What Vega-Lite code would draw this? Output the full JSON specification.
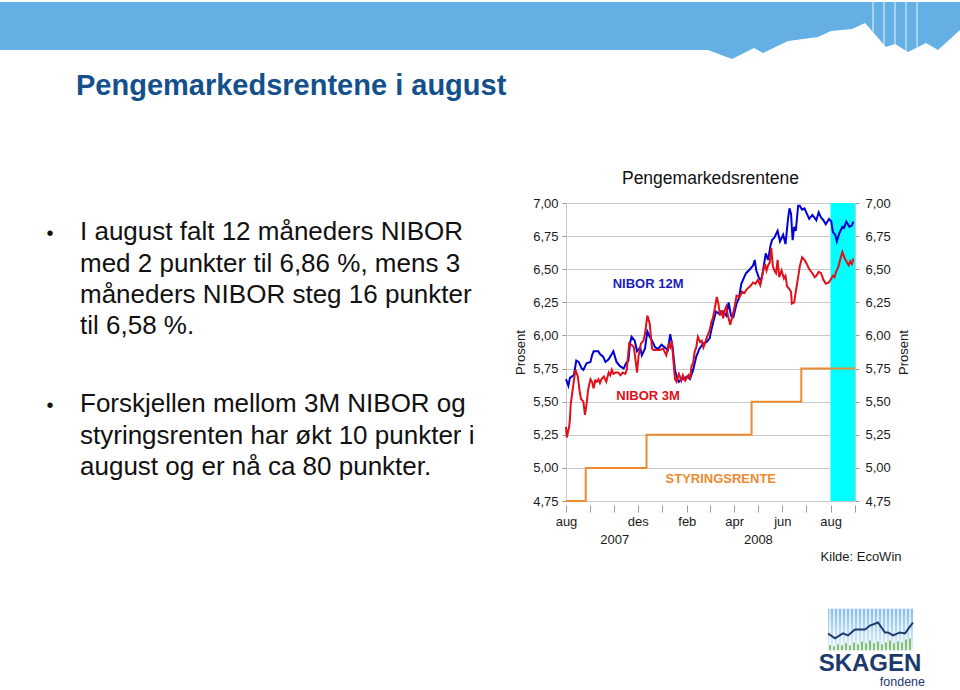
{
  "$schema": "https://vega.github.io/schema/vega-lite/v6.json",
  "padding": 0,
  "background": "#ffffff",
  "spacing": 0,
  "config": {
    "view": {"stroke": null},
    "font": "Liberation Sans",
    "axis": {"labelFont": "Liberation Sans", "titleFont": "Liberation Sans", "labelColor": "#1a1a1a", "titleColor": "#1a1a1a"},
    "axisX": {"labelOverlap": false},
    "title": {"font": "Liberation Sans"},
    "text": {"font": "Liberation Sans"}
  },
  "datasets": {
    "nibor": [
      {"dato":"2007-09-01","serie":"NIBOR 12M","rente":5.67},{"dato":"2007-09-04","serie":"NIBOR 12M","rente":5.62},{"dato":"2007-09-06","serie":"NIBOR 12M","rente":5.68},{"dato":"2007-09-11","serie":"NIBOR 12M","rente":5.70},{"dato":"2007-09-14","serie":"NIBOR 12M","rente":5.81},{"dato":"2007-09-17","serie":"NIBOR 12M","rente":5.80},{"dato":"2007-09-21","serie":"NIBOR 12M","rente":5.75},{"dato":"2007-09-23","serie":"NIBOR 12M","rente":5.74},{"dato":"2007-09-27","serie":"NIBOR 12M","rente":5.79},{"dato":"2007-10-02","serie":"NIBOR 12M","rente":5.80},{"dato":"2007-10-04","serie":"NIBOR 12M","rente":5.85},{"dato":"2007-10-06","serie":"NIBOR 12M","rente":5.88},{"dato":"2007-10-12","serie":"NIBOR 12M","rente":5.88},{"dato":"2007-10-14","serie":"NIBOR 12M","rente":5.86},{"dato":"2007-10-18","serie":"NIBOR 12M","rente":5.84},{"dato":"2007-10-21","serie":"NIBOR 12M","rente":5.80},{"dato":"2007-10-25","serie":"NIBOR 12M","rente":5.82},{"dato":"2007-10-29","serie":"NIBOR 12M","rente":5.86},{"dato":"2007-10-31","serie":"NIBOR 12M","rente":5.88},{"dato":"2007-11-02","serie":"NIBOR 12M","rente":5.84},{"dato":"2007-11-04","serie":"NIBOR 12M","rente":5.80},{"dato":"2007-11-08","serie":"NIBOR 12M","rente":5.77},{"dato":"2007-11-13","serie":"NIBOR 12M","rente":5.75},{"dato":"2007-11-16","serie":"NIBOR 12M","rente":5.79},{"dato":"2007-11-19","serie":"NIBOR 12M","rente":5.81},{"dato":"2007-11-21","serie":"NIBOR 12M","rente":5.94},{"dato":"2007-11-23","serie":"NIBOR 12M","rente":5.99},{"dato":"2007-11-27","serie":"NIBOR 12M","rente":5.96},{"dato":"2007-11-30","serie":"NIBOR 12M","rente":5.88},{"dato":"2007-12-04","serie":"NIBOR 12M","rente":5.91},{"dato":"2007-12-06","serie":"NIBOR 12M","rente":5.85},{"dato":"2007-12-10","serie":"NIBOR 12M","rente":5.90},{"dato":"2007-12-13","serie":"NIBOR 12M","rente":6.03},{"dato":"2007-12-16","serie":"NIBOR 12M","rente":5.99},{"dato":"2007-12-19","serie":"NIBOR 12M","rente":5.96},{"dato":"2007-12-23","serie":"NIBOR 12M","rente":5.91},{"dato":"2007-12-27","serie":"NIBOR 12M","rente":5.90},{"dato":"2007-12-31","serie":"NIBOR 12M","rente":5.93},{"dato":"2008-01-04","serie":"NIBOR 12M","rente":5.91},{"dato":"2008-01-08","serie":"NIBOR 12M","rente":5.89},{"dato":"2008-01-11","serie":"NIBOR 12M","rente":6.01},{"dato":"2008-01-14","serie":"NIBOR 12M","rente":5.91},{"dato":"2008-01-17","serie":"NIBOR 12M","rente":5.74},{"dato":"2008-01-20","serie":"NIBOR 12M","rente":5.67},{"dato":"2008-01-22","serie":"NIBOR 12M","rente":5.65},{"dato":"2008-01-25","serie":"NIBOR 12M","rente":5.67},{"dato":"2008-01-28","serie":"NIBOR 12M","rente":5.67},{"dato":"2008-02-01","serie":"NIBOR 12M","rente":5.69},{"dato":"2008-02-05","serie":"NIBOR 12M","rente":5.67},{"dato":"2008-02-09","serie":"NIBOR 12M","rente":5.74},{"dato":"2008-02-13","serie":"NIBOR 12M","rente":5.84},{"dato":"2008-02-17","serie":"NIBOR 12M","rente":5.90},{"dato":"2008-02-22","serie":"NIBOR 12M","rente":5.94},{"dato":"2008-02-26","serie":"NIBOR 12M","rente":5.95},{"dato":"2008-03-01","serie":"NIBOR 12M","rente":5.98},{"dato":"2008-03-03","serie":"NIBOR 12M","rente":6.04},{"dato":"2008-03-05","serie":"NIBOR 12M","rente":6.09},{"dato":"2008-03-09","serie":"NIBOR 12M","rente":6.18},{"dato":"2008-03-14","serie":"NIBOR 12M","rente":6.16},{"dato":"2008-03-18","serie":"NIBOR 12M","rente":6.18},{"dato":"2008-03-22","serie":"NIBOR 12M","rente":6.15},{"dato":"2008-03-25","serie":"NIBOR 12M","rente":6.25},{"dato":"2008-03-28","serie":"NIBOR 12M","rente":6.15},{"dato":"2008-03-31","serie":"NIBOR 12M","rente":6.14},{"dato":"2008-04-04","serie":"NIBOR 12M","rente":6.24},{"dato":"2008-04-07","serie":"NIBOR 12M","rente":6.28},{"dato":"2008-04-10","serie":"NIBOR 12M","rente":6.39},{"dato":"2008-04-16","serie":"NIBOR 12M","rente":6.47},{"dato":"2008-04-21","serie":"NIBOR 12M","rente":6.50},{"dato":"2008-04-25","serie":"NIBOR 12M","rente":6.53},{"dato":"2008-04-27","serie":"NIBOR 12M","rente":6.57},{"dato":"2008-04-29","serie":"NIBOR 12M","rente":6.49},{"dato":"2008-05-02","serie":"NIBOR 12M","rente":6.44},{"dato":"2008-05-05","serie":"NIBOR 12M","rente":6.41},{"dato":"2008-05-07","serie":"NIBOR 12M","rente":6.47},{"dato":"2008-05-11","serie":"NIBOR 12M","rente":6.62},{"dato":"2008-05-14","serie":"NIBOR 12M","rente":6.57},{"dato":"2008-05-17","serie":"NIBOR 12M","rente":6.68},{"dato":"2008-05-19","serie":"NIBOR 12M","rente":6.72},{"dato":"2008-05-22","serie":"NIBOR 12M","rente":6.74},{"dato":"2008-05-26","serie":"NIBOR 12M","rente":6.79},{"dato":"2008-05-29","serie":"NIBOR 12M","rente":6.71},{"dato":"2008-06-02","serie":"NIBOR 12M","rente":6.76},{"dato":"2008-06-05","serie":"NIBOR 12M","rente":6.69},{"dato":"2008-06-08","serie":"NIBOR 12M","rente":6.87},{"dato":"2008-06-10","serie":"NIBOR 12M","rente":6.96},{"dato":"2008-06-12","serie":"NIBOR 12M","rente":6.92},{"dato":"2008-06-14","serie":"NIBOR 12M","rente":6.72},{"dato":"2008-06-16","serie":"NIBOR 12M","rente":6.82},{"dato":"2008-06-18","serie":"NIBOR 12M","rente":6.79},{"dato":"2008-06-21","serie":"NIBOR 12M","rente":6.98},{"dato":"2008-06-23","serie":"NIBOR 12M","rente":6.98},{"dato":"2008-06-26","serie":"NIBOR 12M","rente":6.95},{"dato":"2008-06-29","serie":"NIBOR 12M","rente":6.96},{"dato":"2008-07-02","serie":"NIBOR 12M","rente":6.92},{"dato":"2008-07-05","serie":"NIBOR 12M","rente":6.88},{"dato":"2008-07-09","serie":"NIBOR 12M","rente":6.91},{"dato":"2008-07-14","serie":"NIBOR 12M","rente":6.87},{"dato":"2008-07-17","serie":"NIBOR 12M","rente":6.93},{"dato":"2008-07-20","serie":"NIBOR 12M","rente":6.89},{"dato":"2008-07-23","serie":"NIBOR 12M","rente":6.87},{"dato":"2008-07-26","serie":"NIBOR 12M","rente":6.84},{"dato":"2008-07-30","serie":"NIBOR 12M","rente":6.88},{"dato":"2008-08-02","serie":"NIBOR 12M","rente":6.86},{"dato":"2008-08-04","serie":"NIBOR 12M","rente":6.78},{"dato":"2008-08-07","serie":"NIBOR 12M","rente":6.76},{"dato":"2008-08-09","serie":"NIBOR 12M","rente":6.71},{"dato":"2008-08-12","serie":"NIBOR 12M","rente":6.77},{"dato":"2008-08-16","serie":"NIBOR 12M","rente":6.82},{"dato":"2008-08-18","serie":"NIBOR 12M","rente":6.81},{"dato":"2008-08-21","serie":"NIBOR 12M","rente":6.86},{"dato":"2008-08-25","serie":"NIBOR 12M","rente":6.82},{"dato":"2008-08-28","serie":"NIBOR 12M","rente":6.83},{"dato":"2008-08-30","serie":"NIBOR 12M","rente":6.86},
      {"dato":"2007-09-01","serie":"NIBOR 3M","rente":5.31},{"dato":"2007-09-02","serie":"NIBOR 3M","rente":5.23},{"dato":"2007-09-05","serie":"NIBOR 3M","rente":5.31},{"dato":"2007-09-06","serie":"NIBOR 3M","rente":5.37},{"dato":"2007-09-07","serie":"NIBOR 3M","rente":5.48},{"dato":"2007-09-11","serie":"NIBOR 3M","rente":5.66},{"dato":"2007-09-13","serie":"NIBOR 3M","rente":5.74},{"dato":"2007-09-16","serie":"NIBOR 3M","rente":5.69},{"dato":"2007-09-18","serie":"NIBOR 3M","rente":5.59},{"dato":"2007-09-20","serie":"NIBOR 3M","rente":5.52},{"dato":"2007-09-23","serie":"NIBOR 3M","rente":5.50},{"dato":"2007-09-25","serie":"NIBOR 3M","rente":5.40},{"dato":"2007-09-27","serie":"NIBOR 3M","rente":5.48},{"dato":"2007-09-29","serie":"NIBOR 3M","rente":5.59},{"dato":"2007-10-02","serie":"NIBOR 3M","rente":5.67},{"dato":"2007-10-04","serie":"NIBOR 3M","rente":5.65},{"dato":"2007-10-06","serie":"NIBOR 3M","rente":5.60},{"dato":"2007-10-08","serie":"NIBOR 3M","rente":5.66},{"dato":"2007-10-10","serie":"NIBOR 3M","rente":5.65},{"dato":"2007-10-12","serie":"NIBOR 3M","rente":5.67},{"dato":"2007-10-14","serie":"NIBOR 3M","rente":5.64},{"dato":"2007-10-16","serie":"NIBOR 3M","rente":5.67},{"dato":"2007-10-19","serie":"NIBOR 3M","rente":5.69},{"dato":"2007-10-22","serie":"NIBOR 3M","rente":5.65},{"dato":"2007-10-25","serie":"NIBOR 3M","rente":5.72},{"dato":"2007-10-27","serie":"NIBOR 3M","rente":5.70},{"dato":"2007-10-29","serie":"NIBOR 3M","rente":5.74},{"dato":"2007-10-31","serie":"NIBOR 3M","rente":5.71},{"dato":"2007-11-03","serie":"NIBOR 3M","rente":5.72},{"dato":"2007-11-06","serie":"NIBOR 3M","rente":5.72},{"dato":"2007-11-09","serie":"NIBOR 3M","rente":5.70},{"dato":"2007-11-12","serie":"NIBOR 3M","rente":5.72},{"dato":"2007-11-15","serie":"NIBOR 3M","rente":5.71},{"dato":"2007-11-17","serie":"NIBOR 3M","rente":5.74},{"dato":"2007-11-20","serie":"NIBOR 3M","rente":5.94},{"dato":"2007-11-23","serie":"NIBOR 3M","rente":5.93},{"dato":"2007-11-26","serie":"NIBOR 3M","rente":5.91},{"dato":"2007-11-30","serie":"NIBOR 3M","rente":5.72},{"dato":"2007-12-02","serie":"NIBOR 3M","rente":5.85},{"dato":"2007-12-05","serie":"NIBOR 3M","rente":5.94},{"dato":"2007-12-08","serie":"NIBOR 3M","rente":5.96},{"dato":"2007-12-10","serie":"NIBOR 3M","rente":6.01},{"dato":"2007-12-13","serie":"NIBOR 3M","rente":6.15},{"dato":"2007-12-16","serie":"NIBOR 3M","rente":6.09},{"dato":"2007-12-19","serie":"NIBOR 3M","rente":5.90},{"dato":"2007-12-21","serie":"NIBOR 3M","rente":5.89},{"dato":"2007-12-25","serie":"NIBOR 3M","rente":5.89},{"dato":"2007-12-29","serie":"NIBOR 3M","rente":5.89},{"dato":"2008-01-02","serie":"NIBOR 3M","rente":5.90},{"dato":"2008-01-06","serie":"NIBOR 3M","rente":5.85},{"dato":"2008-01-09","serie":"NIBOR 3M","rente":5.93},{"dato":"2008-01-11","serie":"NIBOR 3M","rente":5.91},{"dato":"2008-01-13","serie":"NIBOR 3M","rente":5.96},{"dato":"2008-01-15","serie":"NIBOR 3M","rente":5.81},{"dato":"2008-01-17","serie":"NIBOR 3M","rente":5.67},{"dato":"2008-01-19","serie":"NIBOR 3M","rente":5.65},{"dato":"2008-01-22","serie":"NIBOR 3M","rente":5.71},{"dato":"2008-01-25","serie":"NIBOR 3M","rente":5.66},{"dato":"2008-01-27","serie":"NIBOR 3M","rente":5.70},{"dato":"2008-01-30","serie":"NIBOR 3M","rente":5.66},{"dato":"2008-02-03","serie":"NIBOR 3M","rente":5.70},{"dato":"2008-02-05","serie":"NIBOR 3M","rente":5.67},{"dato":"2008-02-07","serie":"NIBOR 3M","rente":5.77},{"dato":"2008-02-09","serie":"NIBOR 3M","rente":5.79},{"dato":"2008-02-11","serie":"NIBOR 3M","rente":5.88},{"dato":"2008-02-13","serie":"NIBOR 3M","rente":5.91},{"dato":"2008-02-15","serie":"NIBOR 3M","rente":5.99},{"dato":"2008-02-18","serie":"NIBOR 3M","rente":5.95},{"dato":"2008-02-20","serie":"NIBOR 3M","rente":5.96},{"dato":"2008-02-22","serie":"NIBOR 3M","rente":5.91},{"dato":"2008-02-24","serie":"NIBOR 3M","rente":5.94},{"dato":"2008-02-26","serie":"NIBOR 3M","rente":5.98},{"dato":"2008-02-28","serie":"NIBOR 3M","rente":6.01},{"dato":"2008-03-01","serie":"NIBOR 3M","rente":6.04},{"dato":"2008-03-03","serie":"NIBOR 3M","rente":6.10},{"dato":"2008-03-05","serie":"NIBOR 3M","rente":6.13},{"dato":"2008-03-07","serie":"NIBOR 3M","rente":6.19},{"dato":"2008-03-10","serie":"NIBOR 3M","rente":6.29},{"dato":"2008-03-12","serie":"NIBOR 3M","rente":6.24},{"dato":"2008-03-14","serie":"NIBOR 3M","rente":6.15},{"dato":"2008-03-16","serie":"NIBOR 3M","rente":6.19},{"dato":"2008-03-18","serie":"NIBOR 3M","rente":6.13},{"dato":"2008-03-20","serie":"NIBOR 3M","rente":6.19},{"dato":"2008-03-22","serie":"NIBOR 3M","rente":6.22},{"dato":"2008-03-24","serie":"NIBOR 3M","rente":6.15},{"dato":"2008-03-27","serie":"NIBOR 3M","rente":6.08},{"dato":"2008-03-30","serie":"NIBOR 3M","rente":6.15},{"dato":"2008-04-02","serie":"NIBOR 3M","rente":6.23},{"dato":"2008-04-04","serie":"NIBOR 3M","rente":6.30},{"dato":"2008-04-08","serie":"NIBOR 3M","rente":6.29},{"dato":"2008-04-11","serie":"NIBOR 3M","rente":6.33},{"dato":"2008-04-14","serie":"NIBOR 3M","rente":6.32},{"dato":"2008-04-17","serie":"NIBOR 3M","rente":6.35},{"dato":"2008-04-21","serie":"NIBOR 3M","rente":6.37},{"dato":"2008-04-25","serie":"NIBOR 3M","rente":6.40},{"dato":"2008-04-28","serie":"NIBOR 3M","rente":6.39},{"dato":"2008-05-01","serie":"NIBOR 3M","rente":6.42},{"dato":"2008-05-04","serie":"NIBOR 3M","rente":6.38},{"dato":"2008-05-07","serie":"NIBOR 3M","rente":6.47},{"dato":"2008-05-10","serie":"NIBOR 3M","rente":6.54},{"dato":"2008-05-12","serie":"NIBOR 3M","rente":6.49},{"dato":"2008-05-14","serie":"NIBOR 3M","rente":6.53},{"dato":"2008-05-16","serie":"NIBOR 3M","rente":6.55},{"dato":"2008-05-18","serie":"NIBOR 3M","rente":6.66},{"dato":"2008-05-20","serie":"NIBOR 3M","rente":6.52},{"dato":"2008-05-22","serie":"NIBOR 3M","rente":6.49},{"dato":"2008-05-24","serie":"NIBOR 3M","rente":6.47},{"dato":"2008-05-26","serie":"NIBOR 3M","rente":6.57},{"dato":"2008-05-28","serie":"NIBOR 3M","rente":6.44},{"dato":"2008-05-31","serie":"NIBOR 3M","rente":6.49},{"dato":"2008-06-03","serie":"NIBOR 3M","rente":6.43},{"dato":"2008-06-05","serie":"NIBOR 3M","rente":6.45},{"dato":"2008-06-07","serie":"NIBOR 3M","rente":6.37},{"dato":"2008-06-10","serie":"NIBOR 3M","rente":6.35},{"dato":"2008-06-12","serie":"NIBOR 3M","rente":6.33},{"dato":"2008-06-13","serie":"NIBOR 3M","rente":6.24},{"dato":"2008-06-16","serie":"NIBOR 3M","rente":6.25},{"dato":"2008-06-18","serie":"NIBOR 3M","rente":6.33},{"dato":"2008-06-21","serie":"NIBOR 3M","rente":6.44},{"dato":"2008-06-23","serie":"NIBOR 3M","rente":6.52},{"dato":"2008-06-26","serie":"NIBOR 3M","rente":6.59},{"dato":"2008-06-29","serie":"NIBOR 3M","rente":6.57},{"dato":"2008-07-02","serie":"NIBOR 3M","rente":6.54},{"dato":"2008-07-05","serie":"NIBOR 3M","rente":6.50},{"dato":"2008-07-09","serie":"NIBOR 3M","rente":6.47},{"dato":"2008-07-12","serie":"NIBOR 3M","rente":6.44},{"dato":"2008-07-14","serie":"NIBOR 3M","rente":6.45},{"dato":"2008-07-17","serie":"NIBOR 3M","rente":6.48},{"dato":"2008-07-20","serie":"NIBOR 3M","rente":6.47},{"dato":"2008-07-23","serie":"NIBOR 3M","rente":6.42},{"dato":"2008-07-26","serie":"NIBOR 3M","rente":6.39},{"dato":"2008-07-30","serie":"NIBOR 3M","rente":6.40},{"dato":"2008-08-02","serie":"NIBOR 3M","rente":6.43},{"dato":"2008-08-04","serie":"NIBOR 3M","rente":6.45},{"dato":"2008-08-06","serie":"NIBOR 3M","rente":6.44},{"dato":"2008-08-08","serie":"NIBOR 3M","rente":6.48},{"dato":"2008-08-11","serie":"NIBOR 3M","rente":6.52},{"dato":"2008-08-14","serie":"NIBOR 3M","rente":6.59},{"dato":"2008-08-16","serie":"NIBOR 3M","rente":6.63},{"dato":"2008-08-19","serie":"NIBOR 3M","rente":6.58},{"dato":"2008-08-21","serie":"NIBOR 3M","rente":6.56},{"dato":"2008-08-24","serie":"NIBOR 3M","rente":6.53},{"dato":"2008-08-26","serie":"NIBOR 3M","rente":6.56},{"dato":"2008-08-28","serie":"NIBOR 3M","rente":6.54},{"dato":"2008-08-30","serie":"NIBOR 3M","rente":6.58}
    ],
    "styr": [
      {"dato":"2007-09-01","rente":4.75},{"dato":"2007-09-26","rente":5.00},{"dato":"2007-12-12","rente":5.25},{"dato":"2008-04-23","rente":5.50},{"dato":"2008-06-25","rente":5.75},{"dato":"2008-09-01","rente":5.75}
    ],
    "etiketter": [
      {"dato":"2007-12-14","rente":6.386,"tekst":"NIBOR 12M"},
      {"dato":"2007-12-14","rente":5.542,"tekst":"NIBOR 3M"},
      {"dato":"2008-03-15","rente":4.918,"tekst":"STYRINGSRENTE"}
    ],
    "punkter": [
      {"linje":0,"tegn":"•","tekst":"I august falt 12 måneders NIBOR"},
      {"linje":1,"tegn":"","tekst":"med 2 punkter til 6,86 %, mens 3"},
      {"linje":2,"tegn":"","tekst":"måneders NIBOR steg 16 punkter"},
      {"linje":3,"tegn":"","tekst":"til 6,58 %."},
      {"linje":5.5,"tegn":"•","tekst":"Forskjellen mellom 3M NIBOR og"},
      {"linje":6.5,"tegn":"","tekst":"styringsrenten har økt 10 punkter i"},
      {"linje":7.5,"tegn":"","tekst":"august og er nå ca 80 punkter."}
    ]
  },
  "vconcat": [
    {
      "spacing": 68,
      "vconcat": [
        {
          "width": 960,
          "height": 60,
          "title": {"text": "Pengemarkedsrentene i august", "orient": "bottom", "anchor": "start", "dx": 76, "offset": 35, "baseline": "alphabetic", "fontSize": 29, "fontWeight": "bold", "color": "#13508c"},
          "encoding": {
            "x": {"field": "x", "type": "quantitative", "scale": {"domain": [0, 960], "nice": false, "zero": false}, "axis": null}
          },
          "layer": [
            {
              "data": {"values": [
                {"x":0,"b":50},{"x":708,"b":50},{"x":732,"b":59},{"x":754,"b":48},{"x":763,"b":53},{"x":788,"b":41},{"x":818,"b":37},{"x":831,"b":31},{"x":852,"b":29},{"x":865,"b":23},{"x":886,"b":47},{"x":895,"b":44},{"x":908,"b":52},{"x":926,"b":43},{"x":938,"b":50},{"x":960,"b":30}
              ]},
              "mark": {"type": "area", "color": "#64b0e4", "interpolate": "linear"},
              "encoding": {
                "y": {"field": "b", "type": "quantitative", "scale": {"domain": [0, 60], "reverse": true, "nice": false, "zero": false}, "axis": null},
                "y2": {"datum": 2}
              }
            },
            {
              "data": {"values": [{"x":873,"b":32},{"x":884,"b":45},{"x":895,"b":44},{"x":906,"b":51},{"x":917,"b":47}]},
              "mark": {"type": "rule", "color": "#e8f3fb", "strokeWidth": 1},
              "encoding": {
                "y": {"field": "b", "type": "quantitative", "scale": {"domain": [0, 60], "reverse": true, "nice": false, "zero": false}, "axis": null},
                "y2": {"datum": 2}
              }
            }
          ]
        },
        {
          "spacing": 14,
          "hconcat": [
            {
              "width": 500,
              "height": 330,
              "data": {"name": "punkter"},
              "layer": [
                {
                  "mark": {"type": "text", "align": "left", "baseline": "alphabetic", "fontSize": 26, "color": "#111111"},
                  "encoding": {
                    "x": {"value": 80},
                    "y": {"field": "linje", "type": "quantitative", "scale": {"domain": [-1.192, 9.351], "reverse": true, "nice": false, "zero": false}, "axis": null},
                    "text": {"field": "tekst"}
                  }
                },
                {
                  "mark": {"type": "text", "align": "center", "baseline": "alphabetic", "fontSize": 20, "color": "#111111"},
                  "encoding": {
                    "x": {"value": 50},
                    "y": {"field": "linje", "type": "quantitative", "scale": {"domain": [-1.192, 9.351], "reverse": true, "nice": false, "zero": false}, "axis": null},
                    "text": {"field": "tegn"}
                  }
                }
              ]
            },
            {
              "width": 289,
              "height": 298,
              "title": {"text": "Pengemarkedsrentene", "fontSize": 17.5, "fontWeight": "normal", "color": "#111111", "offset": 10, "anchor": "middle"},
              "encoding": {
                "x": {
                  "field": "dato", "type": "temporal",
                  "scale": {"domain": [{"year": 2007, "month": 9, "date": 1}, {"year": 2008, "month": 9, "date": 1}], "nice": false},
                  "axis": {
                    "values": [{"year":2007,"month":9,"date":1},{"year":2007,"month":10,"date":1},{"year":2007,"month":11,"date":1},{"year":2007,"month":12,"date":1},{"year":2008,"month":1,"date":1},{"year":2008,"month":2,"date":1},{"year":2008,"month":3,"date":1},{"year":2008,"month":4,"date":1},{"year":2008,"month":5,"date":1},{"year":2008,"month":6,"date":1},{"year":2008,"month":7,"date":1},{"year":2008,"month":8,"date":1},{"year":2008,"month":9,"date":1}],
                    "labelExpr": "timeFormat(datum.value,'%Y-%m')=='2007-09'?'aug':timeFormat(datum.value,'%Y-%m')=='2007-11'?['','2007']:timeFormat(datum.value,'%Y-%m')=='2007-12'?'des':timeFormat(datum.value,'%Y-%m')=='2008-02'?'feb':timeFormat(datum.value,'%Y-%m')=='2008-04'?'apr':timeFormat(datum.value,'%Y-%m')=='2008-05'?['','2008']:timeFormat(datum.value,'%Y-%m')=='2008-06'?'jun':timeFormat(datum.value,'%Y-%m')=='2008-08'?'aug':''",
                    "labelOverlap": false, "labelFlush": false, "labelBound": false,
                    "labelFontSize": 13, "labelLineHeight": 18, "labelPadding": 3,
                    "tickSize": 7, "tickColor": "#999999", "domain": false, "grid": false, "offset": 4,
                    "title": "Kilde: EcoWin", "titleFontSize": 13, "titleFontWeight": "normal",
                    "titleAlign": "right", "titleBaseline": "alphabetic", "titleX": 335, "titleY": 55
                  }
                }
              },
              "layer": [
                {
                  "data": {"values": [{"dato": "2008-08-01", "til": "2008-09-01"}]},
                  "mark": {"type": "rect", "color": "#00ffff"},
                  "encoding": {
                    "x2": {"field": "til"}
                  }
                },
                {
                  "data": {"name": "nibor"},
                  "mark": {"type": "line", "strokeWidth": 2},
                  "encoding": {
                    "y": {
                      "field": "rente", "type": "quantitative",
                      "scale": {"domain": [4.75, 7], "nice": false, "zero": false},
                      "axis": {
                        "values": [4.75, 5, 5.25, 5.5, 5.75, 6, 6.25, 6.5, 6.75, 7],
                        "labelExpr": "replace(format(datum.value,'.2f'),'.',',')",
                        "grid": true, "gridColor": "#c8c8c8", "domainColor": "#c8c8c8", "tickColor": "#999999", "tickSize": 4,
                        "labelFontSize": 13, "labelPadding": 4,
                        "title": "Prosent", "titleFontSize": 13, "titleFontWeight": "normal", "titlePadding": 5
                      }
                    },
                    "color": {"field": "serie", "type": "nominal", "scale": {"domain": ["NIBOR 12M", "NIBOR 3M"], "range": ["#0000d8", "#e0101a"]}, "legend": null}
                  }
                },
                {
                  "data": {"name": "styr"},
                  "mark": {"type": "line", "interpolate": "step-after", "color": "#ee8a30", "strokeWidth": 2},
                  "encoding": {
                    "y": {
                      "field": "rente", "type": "quantitative",
                      "scale": {"domain": [4.75, 7], "nice": false, "zero": false},
                      "axis": {
                        "orient": "right",
                        "values": [4.75, 5, 5.25, 5.5, 5.75, 6, 6.25, 6.5, 6.75, 7],
                        "labelExpr": "replace(format(datum.value,'.2f'),'.',',')",
                        "grid": false, "domainColor": "#c8c8c8", "tickColor": "#999999", "tickSize": 4,
                        "labelFontSize": 13, "labelPadding": 6,
                        "title": "Prosent", "titleFontSize": 13, "titleFontWeight": "normal", "titlePadding": 20, "titleAngle": 270
                      }
                    }
                  }
                },
                {
                  "data": {"name": "etiketter"},
                  "mark": {"type": "text", "fontWeight": "bold", "fontSize": 13, "align": "center", "baseline": "middle"},
                  "encoding": {
                    "y": {"field": "rente", "type": "quantitative", "scale": {"domain": [4.75, 7], "nice": false, "zero": false}, "axis": null},
                    "text": {"field": "tekst"},
                    "color": {"field": "tekst", "type": "nominal", "scale": {"domain": ["NIBOR 12M", "NIBOR 3M", "STYRINGSRENTE"], "range": ["#1c1cc0", "#e0101a", "#ee8a30"]}, "legend": null}
                  }
                }
              ],
              "resolve": {"scale": {"y": "independent", "color": "independent"}, "axis": {"y": "independent"}}
            }
          ]
        }
      ]
    },
    {
      "spacing": 0,
      "hconcat": [
        {
          "width": 812,
          "height": 1,
          "data": {"values": []},
          "mark": {"type": "point", "opacity": 0}
        },
        {
          "width": 118,
          "height": 127,
          "encoding": {
            "x": {"field": "x", "type": "quantitative", "scale": {"domain": [812, 930], "nice": false, "zero": false}, "axis": null}
          },
          "layer": [
            {
              "data": {"values": [{"x": 828, "x2": 913, "y1": 608, "y2": 650}]},
              "mark": {"type": "rect", "color": {"gradient": "linear", "x1": 0, "y1": 0, "x2": 0, "y2": 1, "stops": [{"offset": 0, "color": "#86bde8"}, {"offset": 1, "color": "#e6f1fa"}]}},
              "encoding": {
                "x2": {"field": "x2"},
                "y": {"field": "y1", "type": "quantitative", "scale": {"domain": [562, 690], "reverse": true, "nice": false, "zero": false}, "axis": null},
                "y2": {"field": "y2"}
              }
            },
            {
              "data": {"values": [{"x":830},{"x":834},{"x":838},{"x":842},{"x":846},{"x":850},{"x":854},{"x":858},{"x":862},{"x":866},{"x":870},{"x":874},{"x":878},{"x":882},{"x":886},{"x":890},{"x":894},{"x":898},{"x":902},{"x":906},{"x":910}]},
              "mark": {"type": "rule", "color": "#ffffff", "strokeWidth": 1.3},
              "encoding": {
                "y": {"datum": 608},
                "y2": {"datum": 650}
              }
            },
            {
              "data": {"values": [{"x":830,"t":645},{"x":834,"t":646},{"x":838,"t":644},{"x":842,"t":645},{"x":846,"t":643},{"x":850,"t":645},{"x":854,"t":642},{"x":858,"t":644},{"x":862,"t":641},{"x":866,"t":643},{"x":870,"t":640},{"x":874,"t":643},{"x":878,"t":641},{"x":882,"t":644},{"x":886,"t":642},{"x":890,"t":640},{"x":894,"t":643},{"x":898,"t":641},{"x":902,"t":642},{"x":906,"t":639},{"x":910,"t":638}]},
              "mark": {"type": "rule", "color": "#6ab446", "strokeWidth": 1.6},
              "encoding": {
                "y": {"field": "t", "type": "quantitative"},
                "y2": {"datum": 650}
              }
            },
            {
              "data": {"values": [{"x":828,"y":633},{"x":835,"y":638},{"x":843,"y":633},{"x":848,"y":635},{"x":855,"y":629},{"x":865,"y":629},{"x":870,"y":625},{"x":878,"y":622},{"x":885,"y":632},{"x":888,"y":632},{"x":893,"y":635},{"x":900,"y":632},{"x":905,"y":633},{"x":913,"y":622}]},
              "mark": {"type": "line", "color": "#1d3a6e", "strokeWidth": 2},
              "encoding": {
                "y": {"field": "y", "type": "quantitative"}
              }
            },
            {
              "data": {"values": [{"x": 870, "y": 671, "tekst": "SKAGEN"}]},
              "mark": {"type": "text", "fontSize": 24, "fontWeight": "bold", "color": "#1d3a6e", "align": "center", "baseline": "alphabetic"},
              "encoding": {
                "y": {"field": "y", "type": "quantitative"},
                "text": {"field": "tekst"}
              }
            },
            {
              "data": {"values": [{"x": 925, "y": 686, "tekst": "fondene"}]},
              "mark": {"type": "text", "fontSize": 12.5, "color": "#1d3a6e", "align": "right", "baseline": "alphabetic"},
              "encoding": {
                "y": {"field": "y", "type": "quantitative"},
                "text": {"field": "tekst"}
              }
            }
          ]
        }
      ]
    }
  ]
}
